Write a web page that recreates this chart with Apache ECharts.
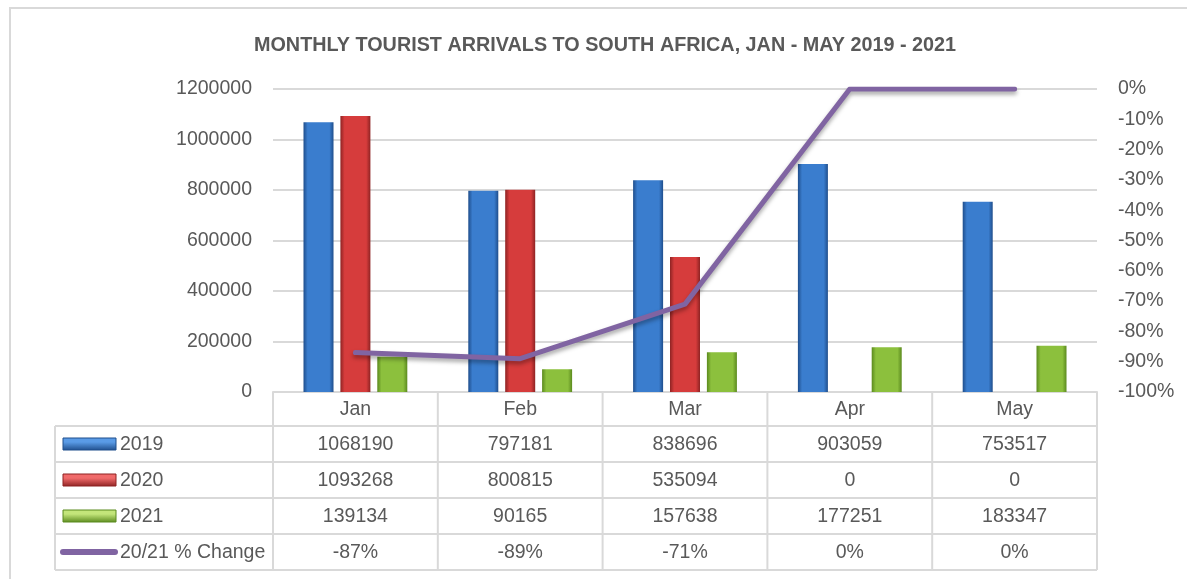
<!DOCTYPE html>
<html>
<head>
<meta charset="utf-8">
<script src="https://cdn.jsdelivr.net/npm/echarts@6/dist/echarts.min.js"></script>
<style>
  html, body { margin: 0; padding: 0; background: #fff; }
  #chart { width: 1187px; height: 579px; }
</style>
</head>
<body>
<div id="chart"></div>
<script>
const months = ["Jan", "Feb", "Mar", "Apr", "May"];
const arrivals2019 = [1068190, 797181, 838696, 903059, 753517];
const arrivals2020 = [1093268, 800815, 535094, 0, 0];
const arrivals2021 = [139134, 90165, 157638, 177251, 183347];
const pctChange = [-0.87, -0.89, -0.71, 0, 0];
const seriesNames = ["2019", "2020", "2021", "20/21 % Change"];

const FONT = "'Liberation Sans', Arial, sans-serif";
const FS = 19.5;
const TEXT = "#595959";
const GRIDLINE = "#d9d9d9";

// plot area
const gridLeft = 273, gridRight = 90, gridTop = 89, gridBottom = 187;
const W = 1187, H = 579;

const pct = (v) => Math.round(v * 100) + "%";

function barFill(dark, mid) {
  return new echarts.graphic.LinearGradient(0, 0, 1, 0, [
    { offset: 0, color: dark },
    { offset: 0.14, color: mid },
    { offset: 0.86, color: mid },
    { offset: 1, color: dark },
  ]);
}
function keyFill(light, dark) {
  return new echarts.graphic.LinearGradient(0, 0, 0, 1, [
    { offset: 0, color: light },
    { offset: 0.35, color: light },
    { offset: 1, color: dark },
  ]);
}

const palette = [
  { dark: "#1f4e8c", mid: "#3a7dce", light: "#5a9be6" },
  { dark: "#8e2323", mid: "#d63c3c", light: "#f06a6a" },
  { dark: "#5b8a1e", mid: "#8cc03d", light: "#c3e57a" },
];
const lineColor = "#8064a2";

const chart = echarts.init(document.getElementById("chart"));

const barSeries = [arrivals2019, arrivals2020, arrivals2021].map((data, i) => ({
  name: seriesNames[i],
  type: "bar",
  yAxisIndex: 0,
  barWidth: 30,
  barGap: "23%",
  data,
  itemStyle: {
    color: barFill(palette[i].dark, palette[i].mid),
    shadowColor: "rgba(0,0,0,0.25)",
    shadowBlur: 3,
    shadowOffsetX: 1,
    shadowOffsetY: 1,
  },
}));

chart.setOption({
  backgroundColor: "#fff",
  animation: false,
  title: {
    text: "MONTHLY TOURIST ARRIVALS TO SOUTH AFRICA, JAN - MAY 2019 - 2021",
    left: 600,
    top: 31,
    textAlign: "center",
    textStyle: { fontFamily: FONT, fontSize: 19.8, fontWeight: "bold", color: TEXT },
  },
  grid: { left: gridLeft, right: gridRight, top: gridTop, bottom: gridBottom },
  xAxis: {
    type: "category",
    data: months,
    axisLabel: { show: false },
    axisTick: { show: false },
    axisLine: { lineStyle: { color: GRIDLINE, width: 2 } },
  },
  yAxis: [
    {
      type: "value",
      min: 0,
      max: 1200000,
      interval: 200000,
      axisLabel: { fontFamily: FONT, fontSize: FS, color: TEXT, margin: 21, formatter: (v) => String(v) },
      axisLine: { show: false },
      axisTick: { show: false },
      splitLine: { lineStyle: { color: GRIDLINE, width: 2 } },
    },
    {
      type: "value",
      position: "right",
      min: -1,
      max: 0,
      interval: 0.1,
      axisLabel: { fontFamily: FONT, fontSize: FS, color: TEXT, margin: 21, formatter: pct },
      axisLine: { show: false },
      axisTick: { show: false },
      splitLine: { show: false },
    },
  ],
  series: [
    ...barSeries,
    {
      name: seriesNames[3],
      type: "line",
      yAxisIndex: 1,
      data: pctChange,
      symbol: "none",
      z: 5,
      lineStyle: {
        color: lineColor,
        width: 5,
        cap: "round",
        join: "round",
        shadowColor: "rgba(0,0,0,0.35)",
        shadowBlur: 4,
        shadowOffsetY: 3,
      },
    },
  ],
});

// data table under the plot, aligned to the category axis
const plotL = gridLeft, plotR = W - gridRight, plotB = H - gridBottom;
const catW = (plotR - plotL) / months.length;
const rowEdges = [plotB, plotB + 34, plotB + 70, plotB + 106, plotB + 142, plotB + 178];
const tableLeft = 55;
const tableRows = [
  { values: arrivals2019, fmt: String },
  { values: arrivals2020, fmt: String },
  { values: arrivals2021, fmt: String },
  { values: pctChange, fmt: pct },
];

const els = [];
const line = (x1, y1, x2, y2) => ({
  type: "line",
  shape: { x1, y1, x2, y2 },
  style: { stroke: GRIDLINE, lineWidth: 2 },
  silent: true,
});
const txt = (text, x, y, align) => ({
  type: "text",
  x, y,
  style: { text, fill: TEXT, font: FS + "px " + FONT, align: align || "center", verticalAlign: "middle" },
  silent: true,
});

// outer chart border (clipped by the picture on right and bottom)
els.push({
  type: "rect",
  shape: { x: 10, y: 8, width: W + 50, height: H + 50 },
  style: { fill: "none", stroke: GRIDLINE, lineWidth: 2 },
  silent: true,
});

// vertical borders
for (let i = 0; i <= months.length; i++) {
  const x = plotL + i * catW;
  els.push(line(x, rowEdges[0], x, rowEdges[rowEdges.length - 1]));
}
els.push(line(tableLeft, rowEdges[1], tableLeft, rowEdges[rowEdges.length - 1]));
// horizontal borders
for (let r = 1; r < rowEdges.length; r++) {
  els.push(line(tableLeft, rowEdges[r], plotR, rowEdges[r]));
}

// header: months
months.forEach((m, i) => {
  const cx = chart.convertToPixel({ xAxisIndex: 0 }, i);
  els.push(txt(m, cx, (rowEdges[0] + rowEdges[1]) / 2 + 1));
});

// rows: legend key + values
tableRows.forEach((row, r) => {
  const cy = (rowEdges[r + 1] + rowEdges[r + 2]) / 2;
  if (r < 3) {
    els.push({
      type: "rect",
      shape: { x: 63, y: cy - 6, width: 53, height: 12 },
      style: {
        fill: keyFill(palette[r].light, palette[r].dark),
        stroke: palette[r].dark,
        lineWidth: 1,
      },
      silent: true,
    });
  } else {
    els.push({
      type: "line",
      shape: { x1: 63, y1: cy, x2: 115, y2: cy },
      style: { stroke: lineColor, lineWidth: 6, lineCap: "round" },
      silent: true,
    });
  }
  els.push(txt(seriesNames[r], 120, cy + 1, "left"));
  row.values.forEach((v, i) => {
    const cx = chart.convertToPixel({ xAxisIndex: 0 }, i);
    els.push(txt(row.fmt(v), cx, cy + 1));
  });
});

chart.setOption({ graphic: { elements: els } });
</script>
</body>
</html>
